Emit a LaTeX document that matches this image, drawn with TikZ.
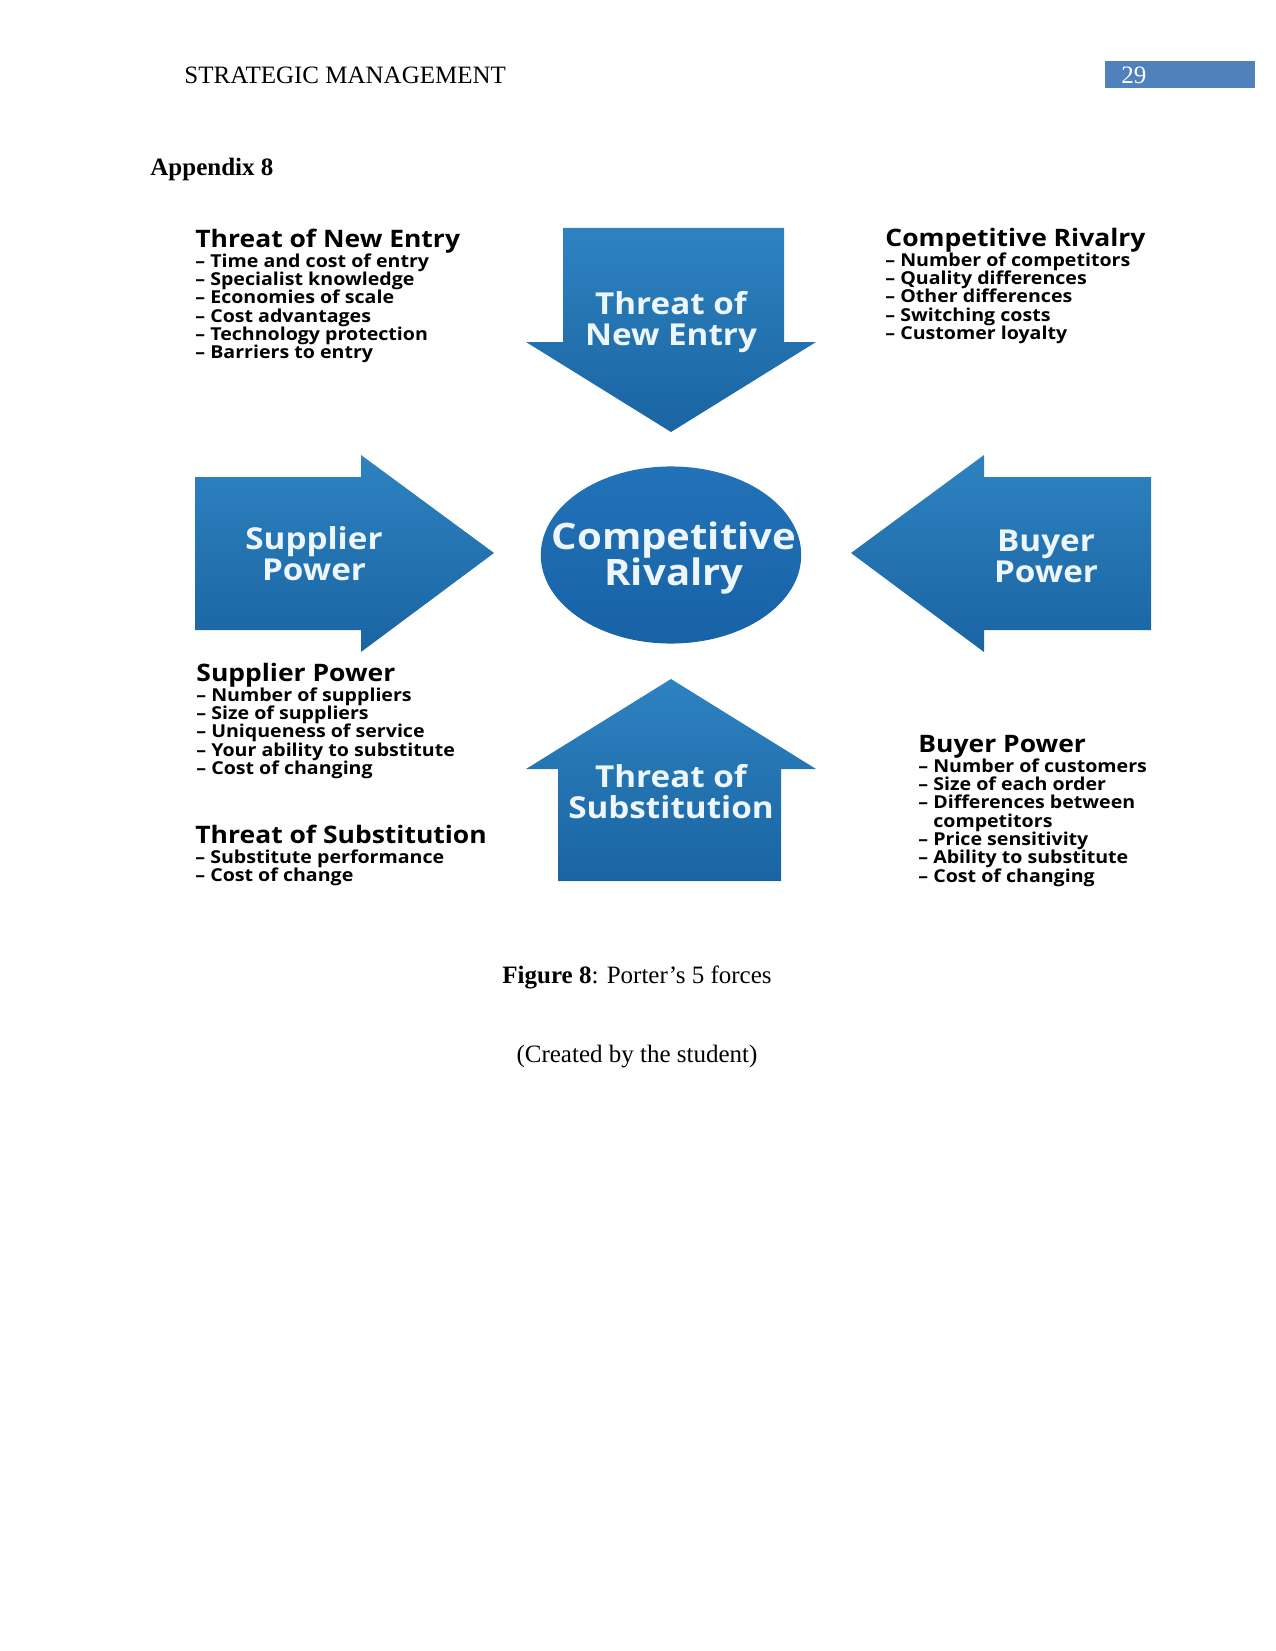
\documentclass[tikz,border=0pt]{standalone}
\usepackage{fontspec}
\setmainfont{Liberation Serif}
\newfontfamily\diagfont[FakeStretch=1.1]{Open Sans}
\usetikzlibrary{positioning,shapes.geometric}
\definecolor{forceLight}{RGB}{46,130,192}
\definecolor{forceDark}{RGB}{26,100,162}
\definecolor{rivalLight}{RGB}{34,114,184}
\definecolor{rivalDark}{RGB}{24,98,166}
\definecolor{pageBlue}{RGB}{79,129,189}
\definecolor{labelWhite}{RGB}{236,246,252}
\tikzset{
    forcearrow/.style={top color=forceLight, bottom color=forceDark, draw=none},
    forcelabel/.style={text=labelWhite, font={\diagfont\bfseries\fontsize{14.5}{14.9}\selectfont\lineskiplimit=-20pt}, align=center, inner sep=0pt},
    rivalry/.style={ellipse, top color=rivalLight, bottom color=rivalDark, draw=none, minimum width=125pt, minimum height=85pt, inner sep=0pt},
    rivallabel/.style={text=labelWhite, font={\diagfont\bfseries\fontsize{17.5}{17.3}\selectfont\lineskiplimit=-20pt}, align=center, inner sep=0pt},
    listhead/.style={font=\diagfont\bfseries\fontsize{11.55}{14}\selectfont, anchor=west, inner sep=0pt, text height=9.5pt, text depth=3pt},
    listbody/.style={font={\diagfont\bfseries\fontsize{8.55}{8.8}\selectfont\lineskiplimit=-20pt}, align=left, inner sep=0pt},
    pagetext/.style={font=\fontsize{12}{14}\selectfont, inner sep=0pt}
}
\begin{document}
\begin{tikzpicture}[x=0.48pt, y=-0.48pt]
    \useasboundingbox (0,0) rectangle (1275,1651);

    % running head
    \node[pagetext, anchor=west] (runhead) at (184,75) {STRATEGIC MANAGEMENT};
    \fill[pageBlue] (1105,61) rectangle (1255,88);
    \node[pagetext, anchor=west, text=white] (pagenum) at (1121,75) {29};
    \node[pagetext, font=\bfseries\fontsize{12}{14}\selectfont, anchor=west] (appx) at (150,169) {Appendix 8};

    % the five forces
    \shade[forcearrow] (563,228) -- (784,228) -- (784,342) -- (816,342) -- (671,432) -- (526,342) -- (563,342) -- cycle;
    \shade[forcearrow] (195,477) -- (361,477) -- (361,455) -- (494,553) -- (361,652) -- (361,630) -- (195,630) -- cycle;
    \shade[forcearrow] (1151,477) -- (984,477) -- (984,455) -- (851,553) -- (984,652) -- (984,630) -- (1151,630) -- cycle;
    \shade[forcearrow] (558,881) -- (558,769) -- (526,769) -- (671,679) -- (816,769) -- (781,769) -- (781,881) -- cycle;

    \node[rivalry] (rival) at (671,555) {};
    \node[rivallabel] (rivalText) at (674,558) {Competitive\\Rivalry};
    \node[forcelabel] (newEntry) at (671,322) {Threat of\\New Entry};
    \node[forcelabel] (supplier) at (314,554) {Supplier\\Power};
    \node[forcelabel] (buyer) at (1046,556) {Buyer\\Power};
    \node[forcelabel] (substitution) at (671,792) {Threat of\\Substitution};

    % lists
    \node[listhead] (tneHead) at (195,241) {Threat of New Entry};
    \node[listbody, below right=-0.6pt and 0pt of tneHead.south west] (tneList) {– Time and cost of entry\\– Specialist knowledge\\– Economies of scale\\– Cost advantages\\– Technology protection\\– Barriers to entry};

    \node[listhead] (crHead) at (885,240) {Competitive Rivalry};
    \node[listbody, below right=-0.6pt and 0pt of crHead.south west] (crList) {– Number of competitors\\– Quality differences\\– Other differences\\– Switching costs\\– Customer loyalty};

    \node[listhead] (spHead) at (196,675) {Supplier Power};
    \node[listbody, below right=-0.6pt and 0pt of spHead.south west] (spList) {– Number of suppliers\\– Size of suppliers\\– Uniqueness of service\\– Your ability to substitute\\– Cost of changing};

    \node[listhead] (tsHead) at (195,837) {Threat of Substitution};
    \node[listbody, below right=-0.6pt and 0pt of tsHead.south west] (tsList) {– Substitute performance\\– Cost of change};

    \node[listhead] (bpHead) at (918,746) {Buyer Power};
    \node[listbody, below right=-0.6pt and 0pt of bpHead.south west] (bpList) {– Number of customers\\– Size of each order\\– Differences between\\\phantom{– }competitors\\– Price sensitivity\\– Ability to substitute\\– Cost of changing};

    % caption
    \node[pagetext] (caption) at (637,977) {\textbf{Figure 8}: Porter’s 5 forces};
    \node[pagetext] (credit) at (637,1057) {(Created by the student)};
\end{tikzpicture}
\end{document}
